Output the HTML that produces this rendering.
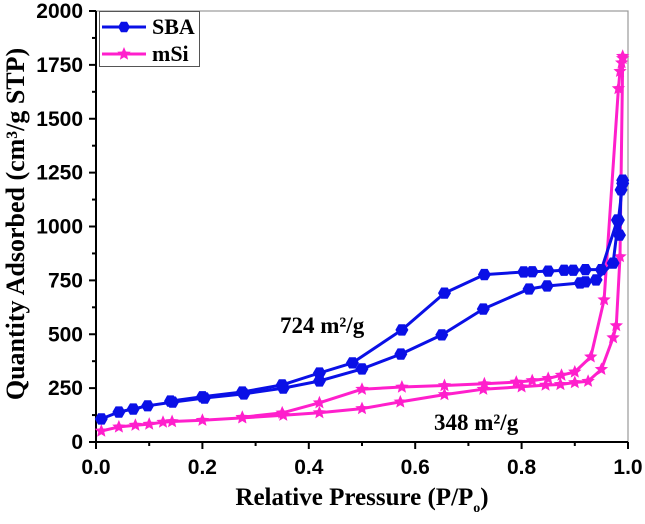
<!DOCTYPE html>
<html><head><meta charset="utf-8"><style>
body{margin:0;background:#fff}
svg{display:block}
.tk{font:bold 21px "Liberation Sans",sans-serif;fill:#000}
.ti{font:bold 22px "Liberation Serif",serif;fill:#000}
.an{font:bold 23px "Liberation Serif",serif;fill:#000}
</style></head><body>
<svg id="c" width="645" height="524"></svg>
<script>
const xTicks=[0,0.2,0.4,0.6,0.8,1.0];
const xTickLabels=["0.0","0.2","0.4","0.6","0.8","1.0"];
const yTicks=[0,250,500,750,1000,1250,1500,1750,2000];
const sbaAdsX=[0.01,0.043,0.07,0.097,0.144,0.204,0.278,0.352,0.42,0.5,0.573,0.65,0.728,0.814,0.848,0.91,0.92,0.94,0.972,0.982,0.99];
const sbaAdsY=[107,139,153,168,185,204,223,250,283,339,408,497,617,710,724,738,743,752,830,1030,1200];
const sbaDesX=[0.99,0.987,0.984,0.98,0.95,0.92,0.897,0.88,0.85,0.82,0.804,0.73,0.655,0.575,0.482,0.42,0.35,0.275,0.2,0.14];
const sbaDesY=[1215,1170,960,1030,800,800,797,797,793,790,789,777,691,520,367,320,265,232,210,190];
const msiAdsX=[0.01,0.043,0.074,0.1,0.126,0.143,0.2,0.275,0.352,0.42,0.5,0.572,0.655,0.728,0.8,0.845,0.873,0.9,0.925,0.95,0.972,0.978,0.985,0.99];
const msiAdsY=[51,70,78,83,92,95,101,112,124,136,155,186,220,245,256,264,267,276,282,337,484,540,860,1780];
const msiDesX=[0.99,0.988,0.985,0.982,0.955,0.93,0.9,0.875,0.85,0.82,0.79,0.73,0.655,0.575,0.5,0.42,0.35,0.275];
const msiDesY=[1790,1760,1720,1640,660,395,325,310,295,285,278,270,262,255,245,182,135,115];
const X0=96,X1=628,Y0=442,Y1=11;
const sx=v=>X0+v*(X1-X0), sy=v=>Y0-v/2000*(Y0-Y1);
const svg=document.getElementById('c');const NS="http://www.w3.org/2000/svg";
function mk(t,a,p){const e=document.createElementNS(NS,t);for(const k in a)e.setAttribute(k,a[k]);(p||svg).appendChild(e);return e;}
let e;
e=mk('rect',{x:X0,y:Y1,width:X1-X0,height:Y0-Y1,fill:'none',stroke:'#999','stroke-width':1.2});

e=mk('line',{x1:X0,y1:Y1,x2:X0,y2:Y0,stroke:'#000','stroke-width':2});

e=mk('line',{x1:X0,y1:Y0,x2:X1,y2:Y0,stroke:'#000','stroke-width':2});

for(let i=0;i<xTicks.length;i++){const x=sx(xTicks[i]);
 e=mk('line',{x1:x,y1:Y0,x2:x,y2:Y0+7,stroke:'#000','stroke-width':2});
 if(i<xTicks.length-1){const xm=sx(xTicks[i]+0.1);e=mk('line',{x1:xm,y1:Y0,x2:xm,y2:Y0+4,stroke:'#000','stroke-width':2});}
 e=mk('text',{x:x,y:Y0+32,'text-anchor':'middle',class:'tk'});e.textContent=xTickLabels[i];}
for(let i=0;i<yTicks.length;i++){const y=sy(yTicks[i]);
 e=mk('line',{x1:X0-7,y1:y,x2:X0,y2:y,stroke:'#000','stroke-width':2});
 if(i<yTicks.length-1){const ym=sy(yTicks[i]+125);e=mk('line',{x1:X0-4,y1:ym,x2:X0,y2:ym,stroke:'#000','stroke-width':2});}
 e=mk('text',{x:X0-13,y:y+7,'text-anchor':'end',class:'tk'});e.textContent=String(yTicks[i]);}
function star(cx,cy,r,col,p){let pts=[];for(let k=0;k<10;k++){const rr=k%2?r*0.45:r;const a=-Math.PI/2+k*Math.PI/5;pts.push((cx+rr*Math.cos(a)).toFixed(1)+','+(cy+rr*Math.sin(a)).toFixed(1));}
 return mk('polygon',{points:pts.join(' '),fill:col},p);}
function hex(cx,cy,r,col,p){let pts=[];for(let k=0;k<6;k++){const a=k*Math.PI/3;pts.push((cx+r*Math.cos(a)).toFixed(1)+','+(cy+r*Math.sin(a)).toFixed(1));}
 return mk('polygon',{points:pts.join(' '),fill:col},p);}
function series(xs,ys,col,marker,name){const g=mk('g',{});
 const d=xs.map((x,i)=>sx(x).toFixed(1)+','+sy(ys[i]).toFixed(1)).join(' ');
 mk('polyline',{points:d,fill:'none',stroke:col,'stroke-width':3,'stroke-linejoin':'round'},g);
 xs.forEach((x,i)=>{const m=marker==='hex'?hex(sx(x),sy(ys[i]),6.5,col,g):star(sx(x),sy(ys[i]),7,col,g);
  });}
series(msiAdsX,msiAdsY,'#ff1fcc','star','msi-adsorption');
series(msiDesX,msiDesY,'#ff1fcc','star','msi-desorption');
series(sbaAdsX,sbaAdsY,'#0a10e6','hex','sba-adsorption');
series(sbaDesX,sbaDesY,'#0a10e6','hex','sba-desorption');
</script>
<div style="position:absolute;left:0;top:0;width:645px;height:524px;pointer-events:none">
<svg width="645" height="524" style="position:absolute;left:0;top:0">
<g>
<rect x="99.5" y="11.5" width="100" height="55" fill="#fff" stroke="#555" stroke-width="1"/>
<line x1="102" y1="27" x2="146" y2="27" stroke="#0a10e6" stroke-width="3"/>
<polygon points="130,27 127,32.2 121,32.2 118,27 121,21.8 127,21.8" fill="#0a10e6"/>
<text x="152" y="34" class="ti">SBA</text>
<line x1="102" y1="54" x2="146" y2="54" stroke="#ff1fcc" stroke-width="3"/>
<polygon points="124,47 125.9,51.5 130.7,51.8 127,55 128.1,59.7 124,57.2 119.9,59.7 121,55 117.3,51.8 122.1,51.5" fill="#ff1fcc"/>
<text x="152" y="61" class="ti">mSi</text>
</g>
<text x="280" y="333" class="an">724 m²/g</text>
<text x="434" y="430" class="an">348 m²/g</text>
<text x="362" y="505" text-anchor="middle" class="ti" style="font-size:25px">Relative Pressure (P/P<tspan font-size="14" dy="7">o</tspan><tspan dy="-7">)</tspan></text>
<text transform="translate(24,224) rotate(-90)" text-anchor="middle" class="ti" style="font-size:26px">Quantity Adsorbed (cm³/g STP)</text>
</svg></div>
</body></html>
